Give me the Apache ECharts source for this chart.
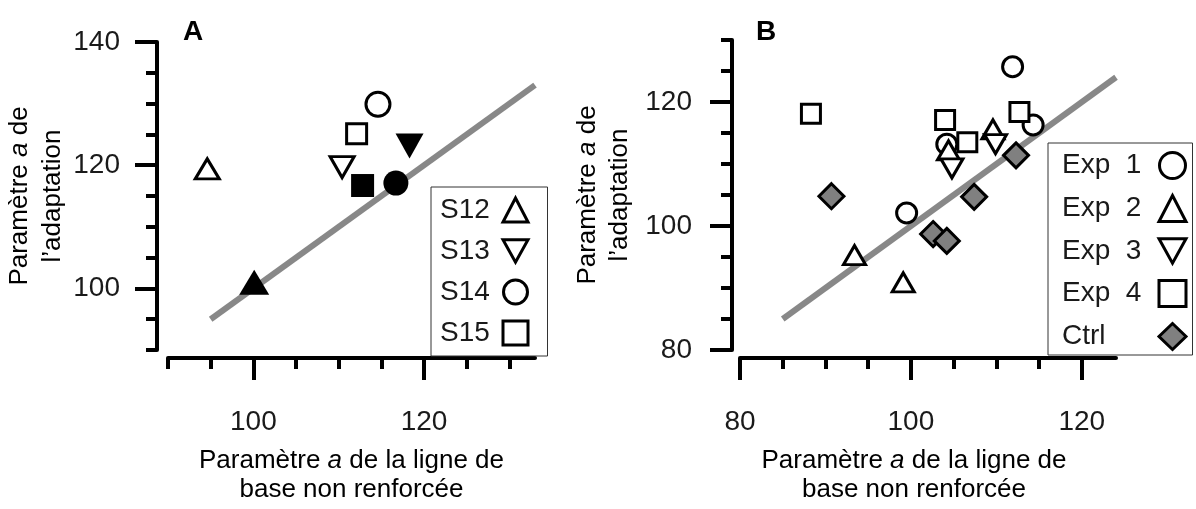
<!DOCTYPE html>
<html>
<head>
<meta charset="utf-8">
<title>Paramètre a de l'adaptation</title>
<script src="https://cdn.jsdelivr.net/npm/echarts@6/dist/echarts.min.js"></script>
<style>
  html, body { margin: 0; padding: 0; background: #fff; }
  #chart { width: 1196px; height: 509px; }
</style>
</head>
<body>
<div id="chart"></div>
<script>
// ---- Panel A : subjects, open = one session, filled = the other ----
const subjectsA = ['S12', 'S13', 'S14', 'S15']
const openBaseA = [94.6, 110.4, 114.6, 112.1]
const openAdaptA = [119.4, 119.7, 129.9, 125.1]
const filledBaseA = [100.1, 118.3, 116.7, 112.8]
const filledAdaptA = [101.0, 123.1, 117.1, 116.7]
const identityA = [95, 133]

const minorTicksAX = [90, 95, 100, 105, 110, 115, 120, 125, 130]
const majorTicksAX = [100, 120]
const minorTicksAY = [90, 95, 100, 105, 110, 115, 120, 125, 130, 135, 140]
const majorTicksAY = [100, 120, 140]

// ---- Panel B : experiments + control ----
const groupsB = ['Exp 1', 'Exp 2', 'Exp 3', 'Exp 4', 'Ctrl']
const exp1Base = [111.9, 114.3, 104.2, 99.5]
const exp1Adapt = [125.7, 116.3, 113.2, 102.1]
const exp2Base = [104.4, 109.6, 93.4, 99.1]
const exp2Adapt = [112.2, 115.6, 95.3, 90.9]
const exp3Base = [104.8, 109.9]
const exp3Adapt = [109.3, 113.2]
const exp4Base = [88.3, 112.7, 104.0, 106.6]
const exp4Adapt = [118.1, 118.4, 117.1, 113.5]
const ctrlBase = [112.3, 107.4, 90.7, 102.6, 104.2]
const ctrlAdapt = [111.4, 104.7, 104.8, 98.7, 97.6]
const identityB = [85, 124]

const minorTicksBX = [80, 85, 90, 95, 100, 105, 110, 115, 120]
const majorTicksBX = [80, 100, 120]
const minorTicksBY = [80, 85, 90, 95, 100, 105, 110, 115, 120, 125, 130]
const majorTicksBY = [80, 100, 120]

const FONT = "'Liberation Sans', Arial, sans-serif"
const TEXT = '#1a1a1a'
const xTitle = 'Paramètre {i|a} de la ligne de\nbase non renforcée'
const yTitle = 'Paramètre {i|a} de\nl\u2019adaptation'
const downTriangle = 'path://M0,0 L10,0 L5,9 Z'

function nameStyle(lineHeight, extra) {
  return Object.assign({
    fontFamily: FONT,
    fontSize: 26,
    color: '#000',
    lineHeight,
    rich: { i: { fontFamily: FONT, fontSize: 26, fontStyle: 'italic', color: '#000', lineHeight } }
  }, extra || {})
}

// main axis: line + minor ticks + labels
function mainAxis(grid, position, min, max, offset, minor, labels, margin, name, nameGap, nameTextStyle, extra) {
  return Object.assign({
    type: 'value',
    gridIndex: grid,
    position,
    min, max, offset,
    splitLine: { show: false },
    axisLine: { show: true, lineStyle: { color: '#000', width: 4 } },
    axisTick: { show: true, customValues: minor, length: 11, lineStyle: { color: '#000', width: 4 } },
    axisLabel: { customValues: labels, margin, fontFamily: FONT, fontSize: 28, color: TEXT },
    name,
    nameLocation: 'middle',
    nameGap,
    nameTextStyle
  }, extra || {})
}

// overlay axis only for the long major ticks
function majorAxis(grid, position, min, max, offset, major) {
  return {
    type: 'value',
    gridIndex: grid,
    position,
    min, max, offset,
    splitLine: { show: false },
    axisLine: { show: false },
    axisTick: { show: true, customValues: major, length: 22, lineStyle: { color: '#000', width: 4 } },
    axisLabel: { show: false }
  }
}

const openStyle = { color: '#fff', borderColor: '#000', borderWidth: 3, opacity: 1 }

function pairs(xs, ys) {
  return xs.map((x, i) => [x, ys[i]])
}

// symbol per subject / group
const shapeA = {
  S12: { symbol: 'triangle', rotate: 0, open: [24, 20], filled: [30, 25] },
  S13: { symbol: 'triangle', rotate: 180, open: [24, 21], filled: [28, 25] },
  S14: { symbol: 'circle', rotate: 0, open: 24, filled: 25 },
  S15: { symbol: 'rect', rotate: 0, open: 20, filled: 23 }
}
const shapeB = {
  'Exp 1': { symbol: 'circle', rotate: 0, size: 20 },
  'Exp 2': { symbol: 'triangle', rotate: 0, size: [22, 19] },
  'Exp 3': { symbol: 'triangle', rotate: 180, size: [22, 19] },
  'Exp 4': { symbol: 'rect', rotate: 0, size: 19 },
  'Ctrl': { symbol: 'diamond', rotate: 0, size: 25 }
}
const dataB = {
  'Exp 1': pairs(exp1Base, exp1Adapt),
  'Exp 2': pairs(exp2Base, exp2Adapt),
  'Exp 3': pairs(exp3Base, exp3Adapt),
  'Exp 4': pairs(exp4Base, exp4Adapt),
  'Ctrl': pairs(ctrlBase, ctrlAdapt)
}

const series = []

series.push({
  type: 'line',
  xAxisIndex: 0, yAxisIndex: 0,
  data: pairs(identityA, identityA),
  symbol: 'none',
  silent: true,
  z: 1,
  lineStyle: { color: '#888', width: 6 }
})
series.push({
  type: 'line',
  xAxisIndex: 2, yAxisIndex: 2,
  data: pairs(identityB, identityB),
  symbol: 'none',
  silent: true,
  z: 1,
  lineStyle: { color: '#888', width: 6 }
})

subjectsA.forEach((name, i) => {
  const s = shapeA[name]
  series.push({
    name,
    type: 'scatter',
    xAxisIndex: 0, yAxisIndex: 0,
    symbol: s.symbol,
    symbolRotate: s.rotate,
    symbolSize: s.open,
    itemStyle: openStyle,
    z: 3,
    data: [
      { value: [openBaseA[i], openAdaptA[i]] },
      { value: [filledBaseA[i], filledAdaptA[i]], symbolSize: s.filled, itemStyle: { color: '#000', borderWidth: 0, opacity: 1 } }
    ]
  })
})

groupsB.forEach(name => {
  const s = shapeB[name]
  series.push({
    name,
    type: 'scatter',
    xAxisIndex: 2, yAxisIndex: 2,
    symbol: s.symbol,
    symbolRotate: s.rotate,
    symbolSize: s.size,
    itemStyle: name === 'Ctrl'
      ? { color: '#808080', borderColor: '#000', borderWidth: 3, opacity: 1 }
      : openStyle,
    z: 3,
    data: dataB[name]
  })
})

function legendItems(names, downName) {
  return names.map(n => n === downName ? { name: n, icon: downTriangle } : { name: n })
}

function legendText(width) {
  return {
    fontFamily: FONT, fontSize: 28, color: TEXT,
    rich: { t: { width, align: 'left', fontFamily: FONT, fontSize: 28, lineHeight: 28, color: TEXT } }
  }
}

const legendBase = {
  orient: 'vertical',
  align: 'right',
  borderColor: '#333',
  borderWidth: 1,
  selectedMode: false,
  itemStyle: { borderWidth: 3, opacity: 1 },
  formatter: n => '{t|' + n.replace(' ', '  ') + '}'
}

const option = {
  animation: false,
  backgroundColor: '#fff',
  title: [
    { text: 'A', left: 178, top: 13, textStyle: { fontFamily: FONT, fontSize: 28, fontWeight: 'bold', color: '#000' } },
    { text: 'B', left: 751, top: 13, textStyle: { fontFamily: FONT, fontSize: 28, fontWeight: 'bold', color: '#000' } }
  ],
  grid: [
    { left: 168, top: 42, width: 367, height: 318 },
    { left: 740, top: 40, width: 376, height: 320 }
  ],
  xAxis: [
    mainAxis(0, 'bottom', 90, 133, 8, minorTicksAX, majorTicksAX, 50, xTitle, 88, nameStyle(29)),
    majorAxis(0, 'bottom', 90, 133, 8, majorTicksAX),
    mainAxis(1, 'bottom', 80, 124, 8, minorTicksBX, majorTicksBX, 50, xTitle, 88,
      nameStyle(29, { padding: [0, 28, 0, 0] })),
    majorAxis(1, 'bottom', 80, 124, 8, majorTicksBX)
  ],
  yAxis: [
    mainAxis(0, 'left', 90, 140, 11, minorTicksAY, majorTicksAY, 37, yTitle, 81, nameStyle(33), { nameRotate: 90 }),
    majorAxis(0, 'left', 90, 140, 11, majorTicksAY),
    mainAxis(1, 'left', 80, 130, 8, minorTicksBY, majorTicksBY, 40, yTitle, 96, nameStyle(32), { nameRotate: 90 }),
    majorAxis(1, 'left', 80, 130, 8, majorTicksBY)
  ],
  legend: [
    Object.assign({}, legendBase, {
      left: 431, top: 187,
      padding: [9, 18, 9, 9],
      itemGap: 13,
      itemWidth: 25, itemHeight: 24,
      data: legendItems(subjectsA, 'S13'),
      textStyle: legendText(58)
    }),
    Object.assign({}, legendBase, {
      left: 1048, top: 143,
      padding: [8, 5, 4, 14],
      itemGap: 14,
      itemWidth: 27, itemHeight: 26,
      data: legendItems(groupsB, 'Exp 3'),
      textStyle: legendText(92)
    })
  ],
  series
}

const chart = echarts.init(document.getElementById('chart'), null, { renderer: 'canvas' })
chart.setOption(option)
window.addEventListener('resize', () => chart.resize())
</script>
</body>
</html>
